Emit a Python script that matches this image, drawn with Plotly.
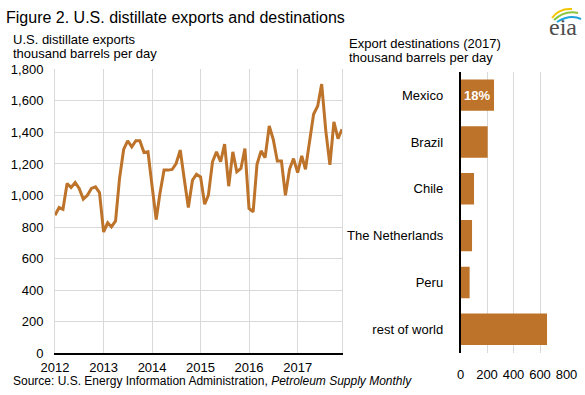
import plotly.graph_objects as go

# ---------------- data ----------------
months = [f"{y}-{m:02d}-01" for y in range(2012, 2018) for m in range(1, 13)]
exports = [
    875, 924, 913, 1076, 1051, 1083, 1045, 977, 1002, 1045, 1055, 1019,
    769, 827, 801, 839, 1110, 1292, 1347, 1309, 1347, 1347, 1273, 1277,
    1060, 848, 1013, 1161, 1161, 1165, 1203, 1288, 1100, 924, 1097, 1135,
    1118, 945, 1002, 1214, 1277, 1214, 1326, 1059, 1277, 1150, 1171, 1298,
    918, 896, 1198, 1283, 1240, 1441, 1357, 1219, 1219, 1001, 1166, 1234,
    1145, 1251, 1166, 1335, 1515, 1568, 1706, 1410, 1194, 1467, 1361, 1420,
]
year_ticks = ["2012-01-01", "2013-01-01", "2014-01-01", "2015-01-01", "2016-01-01", "2017-01-01"]
year_labels = ["2012", "2013", "2014", "2015", "2016", "2017"]
y_ticks = [0, 200, 400, 600, 800, 1000, 1200, 1400, 1600, 1800]

destinations = ["Mexico", "Brazil", "Chile", "The Netherlands", "Peru", "rest of world"]
dest_values = [253, 205, 102, 87, 69, 653]
dest_labels = ["18%", "", "", "", "", ""]
bar_ticks = [0, 200, 400, 600, 800]

# ---------------- style ----------------
W, H = 585, 395
COLOR = "#bd732a"
GRID = "#d9d9d9"
FONT = "Liberation Sans, Arial, sans-serif"


def px(x):
    return x / W


def py(y):
    return 1 - y / H


fig = go.Figure()

fig.add_trace(go.Scatter(
    x=months, y=exports, mode="lines",
    line=dict(color=COLOR, width=3),
    xaxis="x", yaxis="y", showlegend=False, hoverinfo="x+y",
))

fig.add_trace(go.Bar(
    x=dest_values, y=destinations, orientation="h",
    marker=dict(color=COLOR, line=dict(width=0)),
    text=dest_labels, textposition="inside", insidetextanchor="middle",
    textfont=dict(color="white", size=13, family=FONT, weight="bold"),
    constraintext="none",
    xaxis="x2", yaxis="y2", showlegend=False,
))

fig.update_layout(
    width=W, height=H,
    margin=dict(l=0, r=0, t=0, b=0, autoexpand=False),
    paper_bgcolor="white", plot_bgcolor="white",
    font=dict(family=FONT, size=13, color="black"),
    bargap=0.33,
    xaxis=dict(
        domain=[px(55), px(342)],
        type="date",
        range=["2012-01-01", "2017-12-01"],
        tickmode="array", tickvals=year_ticks, ticktext=year_labels,
        showgrid=True, gridcolor=GRID, gridwidth=1,
        showline=True, linecolor="black", linewidth=1.5,
        ticks="", tickfont=dict(size=13),
        ticklabelstandoff=1,
        zeroline=False, fixedrange=True, automargin=False,
    ),
    yaxis=dict(
        domain=[py(353.3), py(69.3)],
        range=[0, 1800],
        tickmode="array", tickvals=y_ticks,
        tickformat=",d",
        showgrid=True, gridcolor=GRID, gridwidth=1,
        showline=True, linecolor=GRID, linewidth=1, mirror=True,
        ticks="", tickfont=dict(size=13),
        ticklabelstandoff=8,
        zeroline=False, fixedrange=True, automargin=False,
    ),
    xaxis2=dict(
        domain=[px(460.5), px(566.5)],
        range=[0, 800],
        tickmode="array", tickvals=bar_ticks,
        showgrid=True, gridcolor=GRID, gridwidth=1,
        showline=False,
        ticks="", tickfont=dict(size=13),
        ticklabelstandoff=12,
        zeroline=False, fixedrange=True, automargin=False,
        anchor="y2",
    ),
    yaxis2=dict(
        domain=[py(352.7), py(71.7)],
        categoryorder="array", categoryarray=destinations,
        autorange="reversed",
        showline=True, linecolor="black", linewidth=1.5,
        showgrid=False,
        ticks="", tickfont=dict(size=13),
        ticklabelstandoff=13,
        zeroline=False, fixedrange=True, automargin=False,
        anchor="x2",
    ),
)

ann = []


def text(x, y, s, size=13, xanchor="left", family=FONT, color="black"):
    ann.append(dict(
        x=px(x), y=py(y), xref="paper", yref="paper", text=s,
        showarrow=False, xanchor=xanchor, yanchor="middle",
        font=dict(family=family, size=size, color=color),
    ))


text(4, 17, "Figure 2. U.S. distillate exports and destinations", size=16)
text(11, 40, "U.S. distillate exports")
text(11, 53, "thousand barrels per day")
text(347, 43, "Export destinations (2017)")
text(347, 57, "thousand barrels per day")
text(11, 381, "Source: U.S. Energy Information Administration, <i>Petroleum Supply Monthly</i>", size=12)
text(563, 27, "eia", size=24, xanchor="center", color="#4d4d4d",
     family="Liberation Serif, DejaVu Serif, serif")

fig.update_layout(annotations=ann)

# EIA logo swooshes (decorative)
swooshes = [
    ("#f2c500", (552, 18), (559, 8), (572, 9)),
    ("#8cc63f", (554, 20), (565, 10), (578, 13)),
    ("#1ea3dc", (557, 22), (570, 14), (581, 19)),
]
shapes = []
for col, (x0, y0), (cx, cy), (x1, y1) in swooshes:
    shapes.append(dict(
        type="path", xref="paper", yref="paper",
        path=f"M {px(x0)},{py(y0)} Q {px(cx)},{py(cy)} {px(x1)},{py(y1)}",
        line=dict(color=col, width=2),
    ))
fig.update_layout(shapes=shapes)

fig.write_html(
    "out.html",
    config={"displayModeBar": False},
    post_script="document.body.style.margin='0';document.body.style.overflow='hidden';",
)
